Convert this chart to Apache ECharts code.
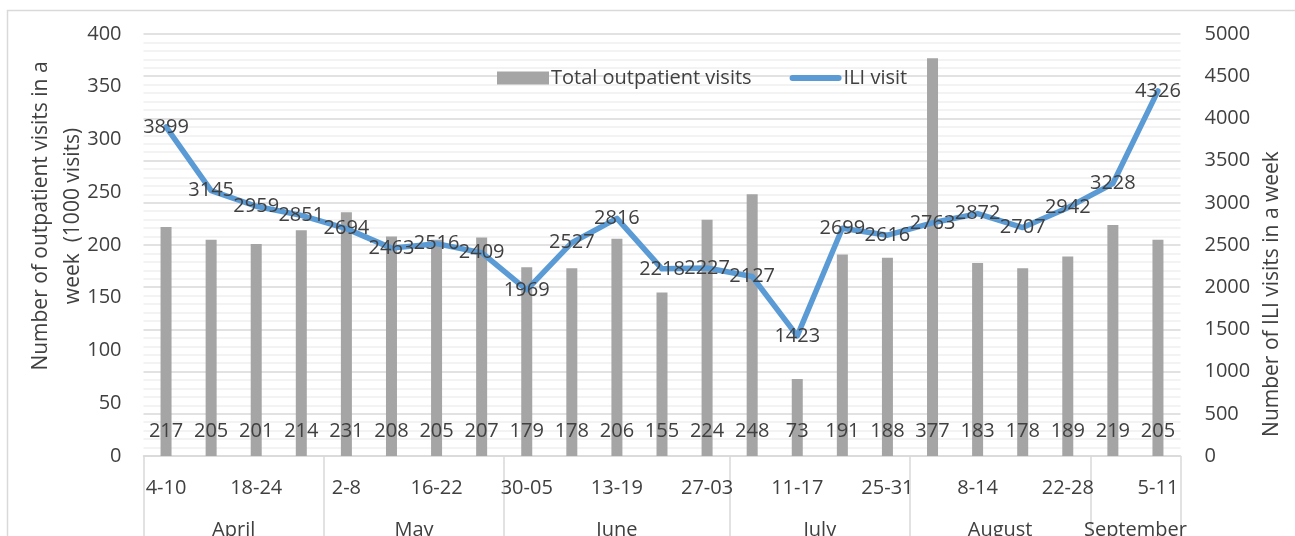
<!DOCTYPE html>
<html>
<head>
<meta charset="utf-8">
<script src="https://cdn.jsdelivr.net/npm/echarts@6/dist/echarts.min.js"></script>
<style>html,body{margin:0;padding:0;background:#fff;}#c{width:1295px;height:536px;}</style>
</head>
<body>
<div id="c"></div>
<script>
const weeks = ['4-10','11-17','18-24','25-01','2-8','9-15','16-22','23-29','30-05','6-12','13-19','20-26','27-03','4-10','11-17','18-24','25-31','1-7','8-14','15-21','22-28','29-04','5-11'];
const months = ['April','May','June','July','August','September'];
const monthWeekCounts = [4,4,5,4,4,2];
const outpatientVisits = [217,205,201,214,231,208,205,207,179,178,206,155,224,248,73,191,188,377,183,178,189,219,205];
const iliVisits = [3899,3145,2959,2851,2694,2463,2516,2409,1969,2527,2816,2218,2227,2127,1423,2699,2616,2763,2872,2707,2942,3228,4326];
const leftTicks = {min:0, max:400, interval:50};
const rightTicks = {min:0, max:5000, interval:500};

// group boundaries and midpoints (in category index units)
const bounds = [-0.5];
const mids = [];
let acc = -0.5;
monthWeekCounts.forEach(n => { mids.push(acc + n/2); acc += n; bounds.push(acc); });

const FONT = 'Open Sans';
const TXT = '#404040';
const FS = 20;
const chart = echarts.init(document.getElementById('c'));
chart.setOption({
  animation: false,
  textStyle: {fontFamily: FONT},
  graphic: [{type:'rect', shape:{x:7.5, y:10.5, width:1400, height:700}, style:{fill:'none', stroke:'#d9d9d9', lineWidth:1.5}, silent:true}],
  legend: {
    left: 492, top: 63, itemWidth: 52, itemHeight: 13, itemGap: 38,
    textStyle: {fontSize: FS, color: TXT, fontFamily: FONT, padding:[0,0,0,-3]},
    data: [
      {name:'Total outpatient visits', icon:'rect'},
      {name:'ILI visit', icon:'path://M3,0 L49,0 A3,3 0 0 1 49,6 L3,6 A3,3 0 0 1 3,0 Z', itemStyle:{color:'#5b9bd5'}}
    ]
  },
  grid: {left: 143.5, right: 114.5, top: 34, bottom: 80, containLabel: false, outerBoundsMode: 'none'},
  xAxis: [{
    type: 'category', data: weeks,
    axisLine: {show:true, lineStyle:{color:'#d9d9d9', width:1.5}},
    axisTick: {show:false},
    axisLabel: {interval:1, margin:22, fontSize:FS, color:TXT, fontFamily:FONT}
  }, {
    type: 'value', min: -0.5, max: 22.5, position: 'bottom',
    axisLine: {show:false},
    splitLine: {show:false},
    axisTick: {show:true, customValues: bounds, length: 90, lineStyle:{color:'#d9d9d9', width:1.5}},
    axisLabel: {show:true, customValues: mids, margin: 64, fontSize:FS, color:TXT, fontFamily:FONT,
      formatter: v => { const i = mids.findIndex(m => Math.abs(m - v) < 1e-6); return i >= 0 ? months[i] : ''; }}
  }],
  yAxis: [{
    type: 'value', min: leftTicks.min, max: leftTicks.max, interval: leftTicks.interval,
    axisLine:{show:false}, axisTick:{show:false}, splitLine:{show:false},
    axisLabel:{fontSize:FS, color:TXT, margin:22, fontFamily:FONT, formatter: v => String(v)},
    name: 'Number of outpatient visits in a\nweek  (1000 visits)',
    nameLocation: 'middle', nameRotate: 90, nameGap: 54, nameMoveOverlap: false,
    nameTextStyle: {fontSize:21, color:TXT, fontFamily:FONT, lineHeight:32, padding:[0,0,0,58]}
  }, {
    type: 'value', min: rightTicks.min, max: rightTicks.max, interval: rightTicks.interval,
    axisLine:{show:false}, axisTick:{show:false},
    splitLine:{show:true, lineStyle:{color:'#d9d9d9', width:1.5}},
    minorTick:{show:false, splitNumber:5},
    minorSplitLine:{show:true, lineStyle:{color:'#f0f0f0', width:1.5}},
    axisLabel:{fontSize:FS, color:TXT, margin:24, fontFamily:FONT, formatter: v => String(v)},
    name: 'Number of ILI visits in a week',
    nameLocation: 'middle', nameRotate: 90, nameGap: 76,
    nameTextStyle: {fontSize:21, color:TXT, fontFamily:FONT, padding:[0,98,0,0]}
  }],
  series: [{
    name: 'Total outpatient visits', type: 'bar', data: outpatientVisits,
    xAxisIndex: 0, yAxisIndex: 0, barWidth: 11,
    itemStyle: {color:'#a5a5a5'},
    label: {show:true, position:'insideBottom', distance:15, fontSize:FS, color:TXT, fontFamily:FONT}
  }, {
    name: 'ILI visit', type: 'line', data: iliVisits,
    xAxisIndex: 0, yAxisIndex: 1, symbol: 'circle', symbolSize: 1, showSymbol: true,
    itemStyle: {color:'#5b9bd5'},
    lineStyle: {color:'#5b9bd5', width:5.5, cap:'round', join:'round'},
    label: {show:true, position:'inside', fontSize:FS, color:TXT, fontFamily:FONT},
    z: 3
  }]
});
</script>
</body>
</html>
